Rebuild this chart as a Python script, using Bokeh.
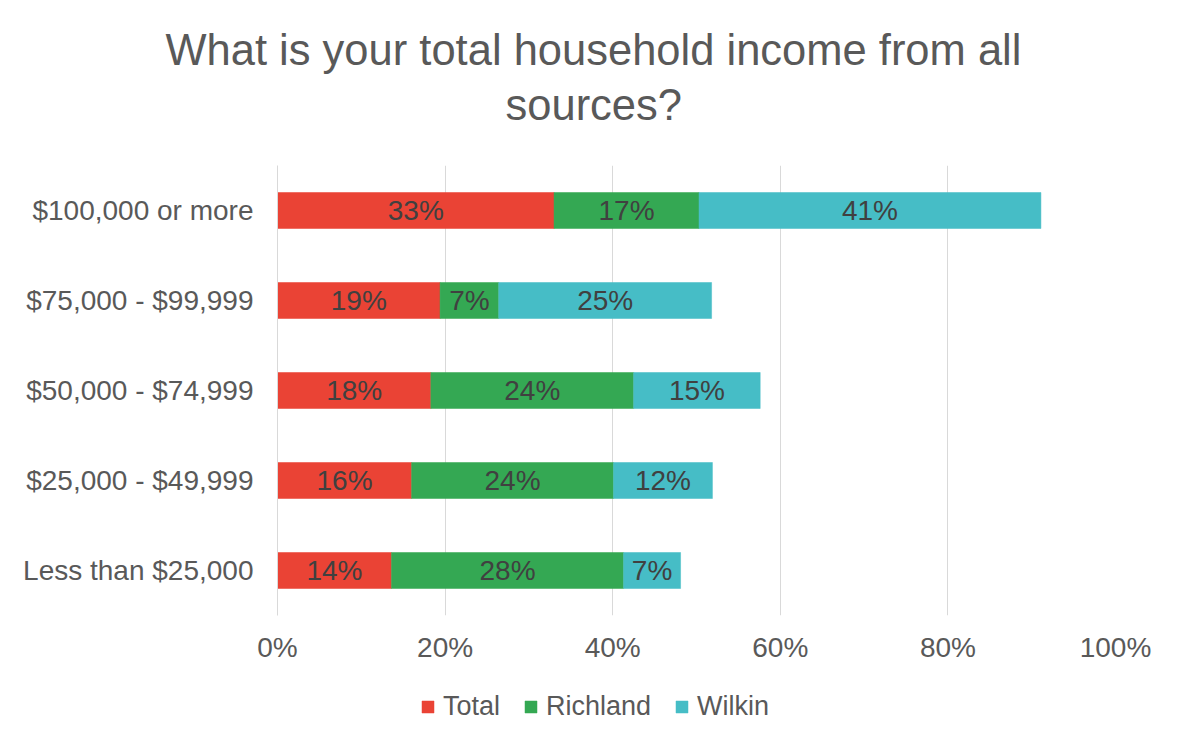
from bokeh.plotting import figure
from bokeh.layouts import column
from bokeh.models import (FactorRange, Range1d, ColumnDataSource, Legend, LegendItem,
                          FixedTicker, CustomJSTickFormatter, Title)
from bokeh.core.properties import value
from bokeh.embed import file_html
from bokeh.resources import INLINE

# ---- data ----
categories = ["$100,000 or more", "$75,000 - $99,999", "$50,000 - $74,999",
              "$25,000 - $49,999", "Less than $25,000"]
series_names = ["Total", "Richland", "Wilkin"]
total = [33.0, 19.4, 18.3, 16.0, 13.6]
richland = [17.3, 7.0, 24.2, 24.1, 27.7]
wilkin = [40.8, 25.4, 15.1, 11.8, 6.8]
x_ticks = [0, 20, 40, 60, 80, 100]
title_line1 = "What is your total household income from all"
title_line2 = "sources?"

colors = ["#EA4335", "#34A853", "#46BDC6"]
FONT = "Liberation Sans"
TXT = "#595959"

W = 1168
H_TITLE, H_MAIN, H_LEG = 140, 535, 59
FL, FW, FH = 277, 838, 450


def bare(fig):
    fig.outline_line_color = None
    fig.background_fill_color = "white"
    fig.border_fill_color = "white"
    fig.xgrid.visible = False
    fig.ygrid.visible = False
    return fig


def build_sources():
    out = []
    cum = [0.0] * len(categories)
    for v in (total, richland, wilkin):
        left = list(cum)
        right = [a + b for a, b in zip(cum, v)]
        out.append(ColumnDataSource(dict(y=categories, left=left, right=right,
                                         mid=[(a + b) / 2 for a, b in zip(left, right)],
                                         lab=[f"{round(x)}%" for x in v])))
        cum = right
    return out


sources = build_sources()

# ---- title strip (two stacked titles above a tiny frame) ----
pt = bare(figure(width=W, height=H_TITLE, output_backend="svg", toolbar_location=None,
                 x_range=Range1d(0, 1), y_range=Range1d(0, 1),
                 x_axis_location=None, y_axis_location=None,
                 min_border_left=FL, min_border_right=W - FL - FW,
                 min_border_top=134, min_border_bottom=0))
pt.add_layout(Title(text=title_line2, align="left", offset=228, vertical_align="bottom",
                    text_font=FONT, text_font_size="43.5px", text_font_style="normal",
                    text_color=TXT, standoff=11), "above")
pt.add_layout(Title(text=title_line1, align="left", offset=-112, vertical_align="bottom",
                    text_font=FONT, text_font_size="43.5px", text_font_style="normal",
                    text_color=TXT, standoff=0), "above")

# ---- main chart ----
FT = 165 - H_TITLE
p = figure(width=W, height=H_MAIN, output_backend="svg", toolbar_location=None,
           y_range=FactorRange(factors=list(reversed(categories))),
           x_range=Range1d(0, 100),
           min_border_left=FL, min_border_right=W - FL - FW,
           min_border_top=FT, min_border_bottom=H_MAIN - FT - FH)
p.outline_line_color = None
p.background_fill_color = "white"
p.border_fill_color = "white"

p.xgrid.ticker = FixedTicker(ticks=x_ticks)
p.xgrid.grid_line_color = "#D9D9D9"
p.xgrid.grid_line_width = 1
p.ygrid.grid_line_color = None

p.xaxis.ticker = FixedTicker(ticks=x_ticks)
p.xaxis.formatter = CustomJSTickFormatter(code="return tick.toFixed(0) + '%';")
for ax in (p.xaxis, p.yaxis):
    ax.axis_line_color = None
    ax.major_tick_line_color = None
    ax.minor_tick_line_color = None
    ax.major_tick_out = 0
    ax.major_tick_in = 0
    ax.major_label_text_font = FONT
    ax.major_label_text_font_size = "28px"
    ax.major_label_text_color = TXT
p.yaxis.axis_line_color = "#D9D9D9"
p.xaxis.major_label_standoff = 16
p.yaxis.major_label_standoff = 24

for src, c in zip(sources, colors):
    p.hbar(y="y", left="left", right="right", height=0.4, source=src,
           fill_color=c, line_color=c, line_width=0.5)
    p.text(x="mid", y="y", text="lab", source=src, text_align="center",
           text_baseline="middle", text_font=value(FONT), text_font_size="28px",
           text_color="#404040")

# ---- legend strip (legend swatches come from hidden copies of the series) ----
pl = bare(figure(width=W, height=H_LEG, output_backend="svg", toolbar_location=None,
                 y_range=FactorRange(factors=list(reversed(categories))),
                 x_range=Range1d(0, 100),
                 x_axis_location=None, y_axis_location=None,
                 min_border_left=FL, min_border_right=W - FL - FW,
                 min_border_top=0, min_border_bottom=0))
swatches = []
for src, c in zip(sources, colors):
    r = pl.hbar(y="y", left="left", right="right", height=0.4, source=src,
                fill_color=c, line_color=c, line_width=0.5)
    r.visible = False
    swatches.append(r)
legend = Legend(items=[LegendItem(label=n, renderers=[r]) for n, r in zip(series_names, swatches)],
                orientation="horizontal", location=(143, 12),
                glyph_width=15, glyph_height=15, label_standoff=8, spacing=23,
                padding=0, margin=0, border_line_color=None, background_fill_alpha=0,
                inactive_fill_alpha=0,
                label_text_font=FONT, label_text_font_size="27px", label_text_color=TXT)
pl.add_layout(legend, "center")

layout = column(pt, p, pl, spacing=0)
open("out.html", "w").write(file_html(layout, INLINE))
